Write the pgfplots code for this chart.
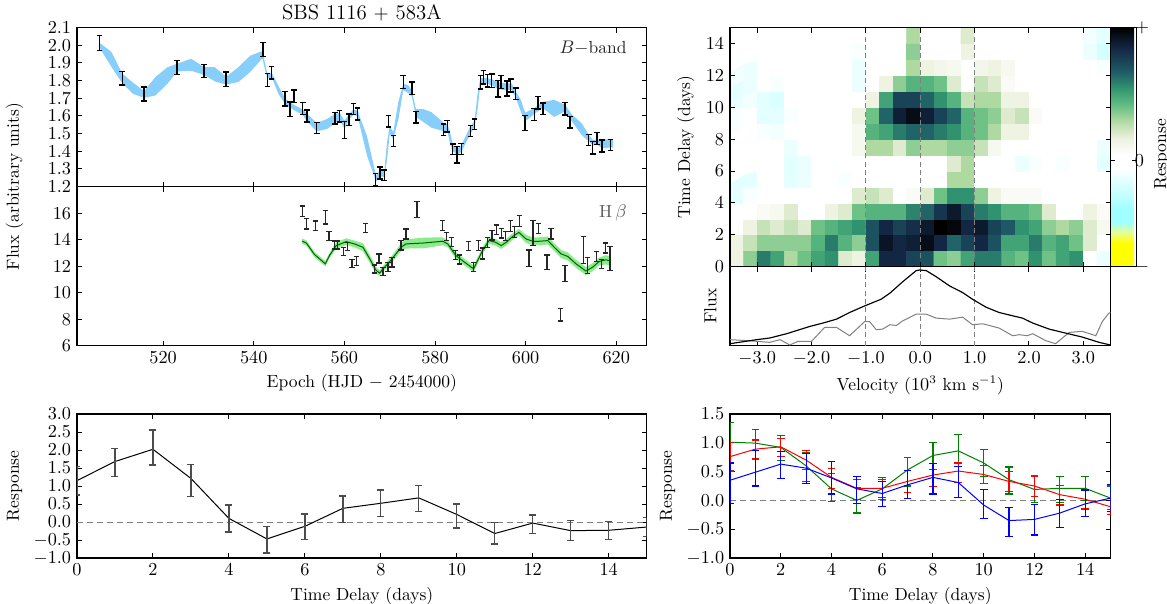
\documentclass[border=0pt]{standalone}
\usepackage{pgfplots}
\usepackage{pgfplotstable}
\pgfplotsset{compat=1.18}
\usepgfplotslibrary{fillbetween}

\definecolor{bandblue}{RGB}{135,206,250}
\definecolor{bandgreen}{RGB}{140,235,140}
\definecolor{modgreen}{RGB}{0,100,0}
\definecolor{rgreen}{RGB}{0,128,0}

\pgfplotsset{
  every axis/.append style={
    scale only axis,
    font=\fontsize{10.5}{12.6}\selectfont,
    tick align=inside,
    major tick length=3pt,
    axis line style={line width=0.7pt},
    every tick/.append style={black, line width=0.6pt},
  },
  colormap={rm}{rgb255(0pt)=(255,255,0) rgb255(10pt)=(255,255,0) rgb255(14.3pt)=(230,255,150) rgb255(18.5pt)=(160,255,255) rgb255(24pt)=(160,255,255) rgb255(31pt)=(200,255,255) rgb255(36.7pt)=(230,255,255) rgb255(41pt)=(255,255,255) rgb255(47pt)=(255,255,255) rgb255(54pt)=(235,240,220) rgb255(61pt)=(175,218,163) rgb255(67.5pt)=(100,190,130) rgb255(74.5pt)=(50,150,112) rgb255(81.5pt)=(30,92,102) rgb255(91.3pt)=(20,40,70) rgb255(100pt)=(0,0,0)},
}

% B-band photometry
\pgfplotstableread{
d v e
506.0 2.013 0.042
511.0 1.813 0.038
515.8 1.725 0.039
523.1 1.875 0.040
529.0 1.854 0.037
533.9 1.808 0.040
542.0 1.976 0.040
543.0 1.803 0.037
543.9 1.845 0.036
546.9 1.698 0.042
548.0 1.637 0.041
548.9 1.711 0.036
550.8 1.643 0.034
551.8 1.600 0.034
553.9 1.532 0.032
557.9 1.587 0.032
558.9 1.599 0.033
560.0 1.521 0.049
561.0 1.578 0.033
562.0 1.640 0.032
562.9 1.611 0.034
566.9 1.240 0.035
567.9 1.277 0.034
568.8 1.264 0.030
569.7 1.570 0.033
570.8 1.458 0.032
573.0 1.792 0.037
574.9 1.757 0.036
575.8 1.593 0.033
581.9 1.523 0.032
582.7 1.542 0.032
583.9 1.411 0.030
584.9 1.381 0.047
585.8 1.412 0.031
587.8 1.515 0.032
588.7 1.553 0.030
590.0 1.791 0.038
590.7 1.819 0.038
591.6 1.799 0.035
592.5 1.800 0.038
593.9 1.755 0.047
594.6 1.792 0.037
595.9 1.755 0.042
596.7 1.773 0.037
597.8 1.725 0.033
599.9 1.560 0.043
601.9 1.608 0.034
602.7 1.676 0.035
603.8 1.641 0.033
608.7 1.642 0.035
609.8 1.565 0.033
613.9 1.464 0.030
614.8 1.421 0.036
615.7 1.472 0.034
616.8 1.430 0.033
618.7 1.436 0.032
}\tabBpts

% B-band model band: centre c, half-width w
\pgfplotstableread{
d c w
506.0 2.000 0.014
508.6 1.920 0.042
511.0 1.812 0.027
513.3 1.758 0.032
515.8 1.722 0.019
518.3 1.768 0.052
520.9 1.828 0.047
523.1 1.874 0.022
526.2 1.890 0.034
529.0 1.855 0.022
531.4 1.836 0.040
533.9 1.800 0.022
536.6 1.834 0.042
539.2 1.895 0.046
541.9 1.947 0.021
543.0 1.825 0.013
544.0 1.830 0.013
545.4 1.750 0.022
547.0 1.680 0.016
548.9 1.648 0.015
550.8 1.622 0.015
551.8 1.590 0.022
553.9 1.537 0.024
556.2 1.555 0.028
557.9 1.585 0.027
559.0 1.598 0.020
560.0 1.550 0.022
561.0 1.594 0.015
562.0 1.622 0.015
562.9 1.615 0.015
565.0 1.430 0.055
567.0 1.245 0.016
567.9 1.278 0.019
568.8 1.270 0.016
569.4 1.400 0.050
570.0 1.520 0.022
570.8 1.490 0.019
571.9 1.630 0.050
573.0 1.765 0.018
574.2 1.750 0.022
574.9 1.725 0.016
575.8 1.617 0.022
577.4 1.603 0.036
579.2 1.578 0.044
581.1 1.550 0.030
581.9 1.537 0.024
582.7 1.535 0.019
583.3 1.480 0.033
583.9 1.422 0.019
584.9 1.395 0.016
585.8 1.415 0.018
587.8 1.520 0.022
588.7 1.555 0.015
589.35 1.675 0.044
590.0 1.795 0.019
591.2 1.800 0.016
592.6 1.790 0.017
594.1 1.770 0.019
595.9 1.765 0.019
596.9 1.765 0.019
597.8 1.723 0.017
598.9 1.660 0.033
599.9 1.594 0.024
601.9 1.628 0.017
603.7 1.663 0.017
606.3 1.643 0.048
608.7 1.645 0.019
610.2 1.589 0.019
612.4 1.525 0.033
613.9 1.475 0.019
614.8 1.450 0.015
615.7 1.452 0.015
616.8 1.443 0.024
618.7 1.445 0.024
619.3 1.445 0.022
}\tabBband

% H beta measurements
\pgfplotstableread{
d v e
550.7 16.15 0.40
551.6 15.20 0.40
553.6 15.05 0.35
555.8 15.68 0.50
556.6 14.28 0.35
557.8 13.60 0.31
558.5 13.60 0.31
559.8 13.10 0.31
560.7 13.49 0.31
561.7 12.18 0.30
562.6 12.39 0.34
564.6 14.88 0.35
566.6 11.79 0.31
567.6 12.58 0.35
568.5 11.61 0.31
569.6 11.96 0.34
570.5 12.28 0.35
572.5 13.58 0.35
573.6 14.43 0.38
576.0 16.28 0.60
581.7 15.05 0.38
582.6 14.24 0.31
583.6 13.83 0.35
584.5 12.83 0.35
585.4 12.51 0.34
587.4 13.53 0.35
588.5 11.96 0.34
589.6 13.55 0.38
590.5 12.96 0.41
591.6 13.80 0.38
592.6 14.33 0.35
593.6 14.74 0.36
594.6 14.49 0.36
595.5 14.28 0.35
596.6 15.03 0.40
597.5 14.59 0.41
598.6 15.40 0.40
600.7 12.60 0.62
601.6 14.49 0.94
602.8 14.85 0.38
604.7 12.31 0.54
605.6 14.45 0.40
607.7 8.33 0.48
608.7 11.45 0.60
612.8 13.20 1.02
613.6 12.05 0.58
615.7 12.73 0.38
616.7 12.14 0.34
617.6 13.38 0.38
618.6 12.59 0.91
}\tabHpts

% H beta model
\pgfplotstableread{
d c w
550.7 13.88 0.20
551.6 13.75 0.20
553.4 12.88 0.20
555.8 12.18 0.20
556.7 12.80 0.20
558.2 13.55 0.25
560.4 13.85 0.25
562.2 13.68 0.25
564.1 13.43 0.30
565.6 12.55 0.30
567.0 11.68 0.25
567.8 11.48 0.20
568.5 11.80 0.20
569.6 12.18 0.25
570.7 12.63 0.25
572.5 13.43 0.30
573.6 13.68 0.35
577.5 13.75 0.40
581.7 13.88 0.30
582.8 13.68 0.25
584.6 12.80 0.25
586.5 12.30 0.25
588.5 11.80 0.25
590.5 13.18 0.25
591.9 13.93 0.25
593.4 13.80 0.25
594.6 13.55 0.25
595.7 13.80 0.25
597.1 14.23 0.25
598.5 14.55 0.25
600.1 14.05 0.30
601.6 13.88 0.30
603.0 13.88 0.30
604.9 13.93 0.30
606.3 13.43 0.30
607.8 12.93 0.30
609.3 12.73 0.30
611.1 12.18 0.30
613.3 11.63 0.30
614.8 11.93 0.30
616.2 12.35 0.30
617.7 12.48 0.35
618.8 12.38 0.35
}\tabHband

% mean and rms spectra
\pgfplotstableread{
v f
-3.5 0.025
-3.01 0.076
-2.77 0.097
-2.46 0.151
-2.03 0.244
-1.79 0.286
-1.54 0.336
-1.30 0.420
-1.02 0.504
-0.72 0.588
-0.56 0.664
-0.32 0.811
-0.075 0.950
-0.014 0.958
0.11 0.950
0.29 0.874
0.54 0.756
0.78 0.672
0.96 0.588
1.21 0.487
1.45 0.420
1.70 0.378
1.88 0.349
2.07 0.286
2.37 0.210
2.62 0.168
2.98 0.109
3.29 0.042
3.47 0.013
3.5 0.010
}\tabMean
\pgfplotstableread{
v f
-3.5 0.076
-3.26 0.067
-3.01 0.055
-2.77 0.042
-2.58 0.076
-2.40 0.008
-2.25 0.055
-2.00 0.055
-1.76 0.231
-1.54 0.231
-1.30 0.126
-1.02 0.307
-0.93 0.303
-0.81 0.202
-0.69 0.210
-0.56 0.265
-0.44 0.256
-0.32 0.315
-0.075 0.399
0.11 0.399
0.29 0.349
0.54 0.336
0.78 0.361
0.96 0.265
1.15 0.277
1.45 0.223
1.70 0.126
1.82 0.139
1.97 0.126
2.07 0.151
2.31 0.063
2.49 0.025
2.74 0.168
2.98 0.181
3.23 0.126
3.35 0.307
3.47 0.412
3.5 0.420
}\tabRms

% velocity-integrated response
\pgfplotstableread{
t r ep em
0 1.15 0.40 0.40
1 1.68 0.37 0.41
2 2.02 0.54 0.44
3 1.21 0.39 0.51
4 0.10 0.37 0.38
5 -0.47 0.35 0.39
6 -0.12 0.34 0.37
7 0.38 0.34 0.39
8 0.52 0.37 0.36
9 0.67 0.35 0.37
10 0.21 0.29 0.38
11 -0.32 0.31 0.29
12 -0.03 0.22 0.29
13 -0.24 0.28 0.28
14 -0.23 0.25 0.25
15 -0.14 0.26 0.26
}\tabResp

\pgfplotstableread{
t r ep em
0 1.01 0.34 0.35
1 0.995 0.235 0.275
2 0.92 0.21 0.23
3 0.60 0.23 0.27
4 0.20 0.27 0.22
5 0.00 0.22 0.22
6 0.20 0.20 0.19
7 0.53 0.22 0.28
8 0.78 0.23 0.25
9 0.86 0.28 0.22
10 0.65 0.24 0.23
11 0.36 0.22 0.25
12 0.19 0.24 0.23
13 0.21 0.21 0.25
14 0.21 0.21 0.21
15 0.04 0.21 0.20
}\tabRespG

\pgfplotstableread{
t r ep em
0 0.76 0.25 0.25
1 0.89 0.16 0.17
2 0.93 0.15 0.17
3 0.70 0.17 0.16
4 0.40 0.16 0.19
5 0.21 0.16 0.20
6 0.21 0.16 0.16
7 0.33 0.19 0.19
8 0.44 0.20 0.20
9 0.51 0.15 0.20
10 0.45 0.16 0.16
11 0.33 0.17 0.18
12 0.25 0.17 0.18
13 0.10 0.16 0.18
14 0.02 0.16 0.17
15 -0.11 0.15 0.14
}\tabRespR

\pgfplotstableread{
t r ep em
0 0.35 0.30 0.41
1 0.49 0.38 0.24
2 0.63 0.22 0.25
3 0.56 0.26 0.26
4 0.39 0.29 0.28
5 0.20 0.22 0.26
6 0.12 0.21 0.22
7 0.27 0.25 0.24
8 0.40 0.24 0.29
9 0.31 0.28 0.26
10 -0.08 0.27 0.23
11 -0.35 0.23 0.28
12 -0.33 0.26 0.27
13 -0.22 0.24 0.25
14 -0.06 0.24 0.22
15 0.04 0.23 0.23
}\tabRespB

\begin{document}
\begin{tikzpicture}

% ---------- B band ----------
\begin{axis}[at={(46.2pt,249.8pt)}, anchor=south west, width=341.8pt, height=95.4pt,
  xmin=501, xmax=626.7, ymin=1.2, ymax=2.1,
  xtick={520,540,560,580,600,620}, xticklabels={},
  ytick={1.2,1.3,1.4,1.5,1.6,1.7,1.8,1.9,2.0,2.1},
  yticklabel style={/pgf/number format/.cd, fixed, fixed zerofill, precision=1}]
\addplot[draw=none, name path=bu] table[x=d, y expr=\thisrow{c}+\thisrow{w}] {\tabBband};
\addplot[draw=none, name path=bl] table[x=d, y expr=\thisrow{c}-\thisrow{w}] {\tabBband};
\addplot[bandblue] fill between[of=bu and bl];
\addplot[draw=none, error bars/.cd, y dir=both, y explicit,
  error bar style={draw=black, line width=0.9pt},
  error mark options={rotate=90, draw=black, line width=0.9pt, mark size=1.7pt}]
  table[x=d, y=v, y error=e] {\tabBpts};
\node[anchor=east, text=black!85] at (rel axis cs:0.975,0.87) {$B{-}$band};
\end{axis}

\node[font=\fontsize{12.5}{15}\selectfont] at (217.1pt,354.2pt) {SBS 1116 $+$ 583A};

% ---------- H beta ----------
\begin{axis}[at={(46.2pt,154.4pt)}, anchor=south west, width=341.8pt, height=95.4pt,
  xmin=501, xmax=626.7, ymin=6, ymax=18,
  xtick={520,540,560,580,600,620}, ytick={6,8,10,12,14,16},
  xlabel={Epoch (HJD $-$ 2454000)}]
\addplot[draw=none, name path=hu] table[x=d, y expr=\thisrow{c}+\thisrow{w}] {\tabHband};
\addplot[draw=none, name path=hl] table[x=d, y expr=\thisrow{c}-\thisrow{w}] {\tabHband};
\addplot[bandgreen] fill between[of=hu and hl];
\addplot[modgreen, line width=0.6pt] table[x=d, y=c] {\tabHband};
\addplot[draw=none, error bars/.cd, y dir=both, y explicit,
  error bar style={draw=black!85, line width=0.8pt},
  error mark options={rotate=90, draw=black!85, line width=0.8pt, mark size=1.6pt}]
  table[x=d, y=v, y error=e] {\tabHpts};
\node[anchor=east, text=black!65] at (rel axis cs:0.975,0.835) {H$\,\beta$};
\end{axis}

\node[rotate=90, font=\fontsize{10.5}{12.6}\selectfont] at (8.7pt,249.8pt) {Flux (arbitrary units)};

% ---------- 2D transfer function ----------
\begin{axis}[at={(438pt,201.8pt)}, anchor=south west, width=228.3pt, height=143.4pt,
  xmin=-3.5, xmax=3.5, ymin=0, ymax=15,
  xtick={-3,-2,-1,0,1,2,3}, xticklabels={}, ytick={0,2,4,6,8,10,12,14},
  ylabel={Time Delay (days)}, axis on top,
  colormap name=rm, point meta min=-0.8, point meta max=1,
  colorbar,
  colorbar style={at={(parent axis.north east)}, anchor=north west, xshift=-0.3cm,
    width=15.6pt, ytick={-0.8,0,1}, yticklabels={$-$,$0$,$+$},
    yticklabel style={xshift=-4.5pt},
    ylabel={Response}, ylabel style={at={(axis description cs:1.45,0.47)}, anchor=north},
    major tick length=2.5pt}]
\addplot[matrix plot*, mesh/cols=28, point meta=explicit]
 table[header=false, row sep=\\, meta index=0,
   x expr={-3.375+0.25*mod(\coordindex,28)}, y expr={0.5+floor(\coordindex/28)}] {
0.15\\0.35\\0.6\\0.5\\0.3\\0.4\\0.5\\0.55\\0.2\\0.15\\0.5\\0.85\\0.85\\0.75\\0.7\\0.4\\0.35\\0.5\\0.6\\0.6\\0.45\\0.4\\0.55\\0.4\\0.5\\0.55\\-0.05\\-0.12\\
0.15\\0.25\\0.35\\0.35\\0.35\\0.35\\0.45\\0.6\\0.45\\0.35\\0.7\\0.92\\0.85\\0.88\\0.95\\0.85\\0.65\\0.75\\0.85\\0.7\\0.5\\0.5\\0.6\\0.45\\0.5\\0.4\\0.2\\0.0\\
0.05\\0.15\\0.25\\0.2\\0.25\\0.2\\0.4\\0.45\\0.5\\0.55\\0.7\\0.85\\0.75\\0.82\\0.9\\1.0\\0.97\\0.85\\0.9\\0.75\\0.68\\0.55\\0.5\\0.35\\0.3\\0.35\\0.2\\0.1\\
0\\0\\0.08\\0.1\\0.2\\0.05\\0.05\\0.15\\0.2\\0.4\\0.45\\0.45\\0.45\\0.58\\0.65\\0.8\\0.9\\0.75\\0.6\\0.55\\0.45\\0.45\\0.4\\0.2\\0\\0.05\\0.15\\0.08\\
-0.15\\-0.08\\0\\0\\0\\-0.05\\0\\0\\0.05\\0.2\\0.25\\0.2\\0.05\\0.08\\0.2\\0.4\\0.55\\0.55\\0.35\\0.15\\0.08\\0.08\\0.08\\0\\-0.03\\0\\0\\0\\
-0.15\\-0.15\\0\\0\\-0.15\\-0.12\\-0.03\\-0.05\\-0.08\\0.03\\0.05\\0\\0.03\\0.03\\0\\0.05\\0.3\\0.3\\0.05\\0.03\\0\\0\\0\\0\\-0.03\\-0.05\\0\\0\\
0\\0\\0\\0\\-0.15\\-0.12\\0\\-0.03\\-0.05\\0\\0.05\\0\\0.03\\0.05\\0\\0\\0.2\\0.3\\0.05\\0\\-0.03\\-0.12\\-0.08\\-0.03\\-0.08\\-0.05\\-0.05\\-0.15\\
0\\0\\0\\-0.05\\-0.12\\-0.03\\0.03\\0\\0\\0.1\\0.3\\0.3\\0.2\\0.35\\0.3\\0.3\\0.35\\0.35\\0.25\\0.1\\0\\0\\0\\0\\0\\0\\-0.03\\-0.12\\
0\\0\\-0.08\\-0.1\\-0.05\\0\\0\\0\\0\\0.1\\0.45\\0.5\\0.6\\0.65\\0.65\\0.6\\0.55\\0.45\\0.4\\0.3\\0.15\\0.15\\0.05\\0\\0\\0\\0\\0\\
-0.08\\-0.03\\-0.15\\-0.15\\-0.08\\0\\-0.03\\0.03\\0\\0.15\\0.4\\0.65\\0.88\\0.95\\0.88\\0.75\\0.65\\0.45\\0.4\\0.35\\0.2\\0.25\\0.08\\0.05\\0\\0\\0\\0.03\\
-0.12\\-0.1\\-0.15\\-0.18\\-0.05\\0\\0\\0\\0.05\\0\\0.15\\0.5\\0.75\\0.75\\0.65\\0.55\\0.45\\0.25\\0.3\\0.3\\0.15\\0.15\\0.05\\0\\0\\0\\0\\0\\
-0.15\\-0.12\\-0.03\\-0.08\\0\\0\\-0.03\\0\\0\\-0.12\\0\\0.15\\0.35\\0.45\\0.45\\0.4\\0.2\\0.05\\0.25\\0.2\\0.08\\0.03\\0\\0\\-0.05\\0\\0\\0\\
-0.1\\-0.12\\0\\0\\0.05\\0.05\\0\\0\\0\\-0.12\\0\\0\\0.05\\0.3\\0.15\\0.12\\0.1\\0.05\\0.12\\0.15\\0.1\\0\\0\\0\\0\\-0.03\\-0.05\\-0.08\\
0\\-0.05\\0\\0\\0.05\\0\\0\\0\\0\\-0.08\\-0.05\\-0.03\\0.05\\0.35\\0.05\\0\\0.05\\0.15\\0\\0\\0.05\\0\\0\\0\\0\\0\\-0.12\\-0.2\\
0.03\\0.03\\0\\0\\0\\0\\-0.03\\0\\0\\-0.05\\-0.05\\-0.03\\0\\0.3\\0.05\\0\\0\\0.2\\-0.03\\0\\0\\0\\0\\0\\0\\0\\-0.1\\-0.15\\
};
\addplot[gray, line width=0.6pt, dash pattern=on 3pt off 2pt] coordinates {(-1,0) (-1,15)};
\addplot[gray, line width=0.6pt, dash pattern=on 3pt off 2pt] coordinates {(0,0) (0,15)};
\addplot[gray, line width=0.6pt, dash pattern=on 3pt off 2pt] coordinates {(1,0) (1,15)};
\end{axis}

% ---------- spectra ----------
\begin{axis}[at={(438pt,154.4pt)}, anchor=south west, width=228.3pt, height=47.4pt,
  xmin=-3.5, xmax=3.5, ymin=0, ymax=1, ytick=\empty,
  xtick={-3,-2,-1,0,1,2,3},
  xticklabel style={/pgf/number format/.cd, fixed, fixed zerofill, precision=1},
  xlabel={Velocity ($10^3$ km s$^{-1}$)},
  ylabel={Flux}, ylabel style={at={(axis description cs:-0.02,0.5)}, anchor=south}]
\addplot[gray, line width=0.6pt, dash pattern=on 3pt off 2pt] coordinates {(-1,0) (-1,1)};
\addplot[gray, line width=0.6pt, dash pattern=on 3pt off 2pt] coordinates {(0,0) (0,1)};
\addplot[gray, line width=0.6pt, dash pattern=on 3pt off 2pt] coordinates {(1,0) (1,1)};
\addplot[gray, line width=0.6pt] table[x=v, y=f] {\tabRms};
\addplot[black, line width=0.7pt] table[x=v, y=f] {\tabMean};
\end{axis}

% ---------- velocity-integrated response ----------
\begin{axis}[at={(46.2pt,27pt)}, anchor=south west, width=341.8pt, height=86.4pt,
  xmin=0, xmax=15, ymin=-1, ymax=3,
  xtick={0,2,4,6,8,10,12,14}, ytick={-1,-0.5,0,0.5,1,1.5,2,2.5,3},
  yticklabel style={/pgf/number format/.cd, fixed, fixed zerofill, precision=1},
  xlabel={Time Delay (days)}, ylabel={Response}]
\addplot[gray, line width=0.6pt, dash pattern=on 3.6pt off 2.4pt] coordinates {(0,0) (15,0)};
\addplot[black, line width=0.6pt, error bars/.cd, y dir=both, y explicit,
  error bar style={draw=black!70, line width=0.8pt},
  error mark options={rotate=90, draw=black!70, line width=0.8pt, mark size=2.1pt}]
  table[x=t, y=r, y error plus=ep, y error minus=em] {\tabResp};
\end{axis}

% ---------- velocity-resolved response ----------
\begin{axis}[at={(438pt,27pt)}, anchor=south west, width=228.3pt, height=86.4pt,
  xmin=0, xmax=15, ymin=-1, ymax=1.5,
  xtick={0,2,4,6,8,10,12,14}, ytick={-1,-0.5,0,0.5,1,1.5},
  yticklabel style={/pgf/number format/.cd, fixed, fixed zerofill, precision=1},
  xlabel={Time Delay (days)}, ylabel={Response}]
\addplot[gray, line width=0.6pt, dash pattern=on 3.6pt off 2.4pt] coordinates {(0,0) (15,0)};
\addplot[rgreen, line width=0.6pt, error bars/.cd, y dir=both, y explicit,
  error bar style={draw=rgreen, line width=0.7pt},
  error mark options={rotate=90, draw=rgreen, line width=0.7pt, mark size=2.3pt}]
  table[x=t, y=r, y error plus=ep, y error minus=em] {\tabRespG};
\addplot[red, line width=0.6pt, error bars/.cd, y dir=both, y explicit,
  error bar style={draw=red, line width=0.7pt},
  error mark options={rotate=90, draw=red, line width=0.7pt, mark size=2.3pt}]
  table[x=t, y=r, y error plus=ep, y error minus=em] {\tabRespR};
\addplot[blue, line width=0.6pt, error bars/.cd, y dir=both, y explicit,
  error bar style={draw=blue, line width=0.7pt},
  error mark options={rotate=90, draw=blue, line width=0.7pt, mark size=2.3pt}]
  table[x=t, y=r, y error plus=ep, y error minus=em] {\tabRespB};
\end{axis}

\pgfresetboundingbox
\path[use as bounding box] (0,0) rectangle (700.2pt,361.8pt);
\end{tikzpicture}
\end{document}
